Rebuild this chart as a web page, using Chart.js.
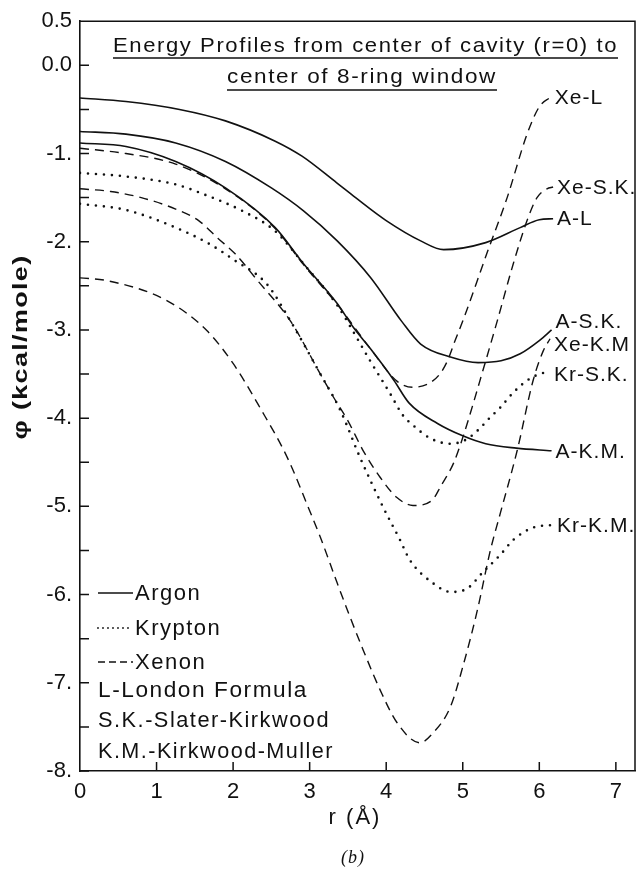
<!DOCTYPE html>
<html>
<head>
<meta charset="utf-8">
<script src="https://cdn.jsdelivr.net/npm/chart.js@4.4.0/dist/chart.umd.min.js"></script>
<style>
  html, body { margin: 0; padding: 0; background: #fff; }
  #wrap { width: 637px; height: 870px; }
</style>
</head>
<body>
<div id="wrap"><canvas id="c" width="637" height="870"></canvas></div>
<script>
/* Energy profiles, cavity centre -> 8-ring window */

// r (Å) and phi (kcal/mole)
const rAL    = [0, 0.6, 1.3, 1.9, 2.55, 2.9, 3.35, 3.6, 4.0, 4.45, 4.75, 5.3, 5.75, 6.0, 6.18];
const phiAL  = [-0.37, -0.41, -0.50, -0.63, -0.86, -1.03, -1.33, -1.50, -1.76, -1.99, -2.09, -2.01, -1.84, -1.75, -1.74];

const rASK   = [0, 0.6, 1.25, 1.9, 2.5, 2.92, 3.36, 3.8, 4.2, 4.45, 4.85, 5.2, 5.5, 5.75, 6.0, 6.16];
const phiASK = [-0.75, -0.78, -0.88, -1.09, -1.39, -1.65, -1.99, -2.41, -2.90, -3.16, -3.31, -3.37, -3.35, -3.27, -3.12, -3.0];

const rAKM   = [0, 0.6, 1.25, 1.9, 2.55, 2.92, 3.36, 3.57, 3.8, 4.1, 4.3, 4.67, 5.0, 5.3, 5.7, 6.16];
const phiAKM = [-0.88, -0.92, -1.09, -1.39, -1.84, -2.25, -2.70, -2.97, -3.22, -3.57, -3.83, -4.06, -4.20, -4.29, -4.34, -4.37];

const rKrSK   = [0, 0.6, 1.25, 1.67, 2.12, 2.55, 2.92, 3.36, 3.57, 3.79, 4.05, 4.22, 4.35, 4.58, 4.84, 5.05, 5.23, 5.36, 5.49, 5.66, 5.88, 6.14];
const phiKrSK = [-1.22, -1.26, -1.35, -1.48, -1.65, -1.88, -2.25, -2.72, -3.02, -3.35, -3.72, -3.97, -4.08, -4.23, -4.29, -4.24, -4.11, -3.99, -3.88, -3.71, -3.55, -3.46];

const rKrKM   = [0, 0.6, 1.25, 1.7, 2.0, 2.44, 2.75, 3.14, 3.4, 3.66, 3.96, 4.18, 4.31, 4.61, 4.84, 5.06, 5.27, 5.49, 5.66, 5.92, 6.18];
const phiKrKM = [-1.57, -1.64, -1.84, -2.03, -2.20, -2.48, -2.90, -3.50, -3.91, -4.45, -5.01, -5.38, -5.61, -5.87, -5.97, -5.93, -5.74, -5.55, -5.38, -5.24, -5.21];

const rXeL   = [0, 0.6, 1.25, 1.9, 2.55, 2.92, 3.36, 3.8, 4.14, 4.35, 4.55, 4.7, 4.8, 4.9, 5.0, 5.32, 5.58, 5.84, 6.0, 6.15];
const phiXeL = [-0.94, -1.0, -1.12, -1.40, -1.85, -2.26, -2.71, -3.22, -3.58, -3.65, -3.61, -3.50, -3.35, -3.12, -2.90, -2.12, -1.50, -0.78, -0.47, -0.36];

const rXeSK   = [0, 0.4, 0.8, 1.25, 1.55, 1.8, 2.03, 2.3, 2.75, 3.14, 3.31, 3.5, 3.7, 3.92, 4.14, 4.35, 4.6, 4.72, 4.88, 5.0, 5.29, 5.45, 5.66, 5.84, 5.97, 6.1, 6.18];
const phiXeSK = [-1.40, -1.43, -1.50, -1.63, -1.76, -1.96, -2.14, -2.42, -2.90, -3.50, -3.76, -4.03, -4.37, -4.67, -4.90, -4.99, -4.93, -4.76, -4.51, -4.22, -3.38, -2.90, -2.25, -1.76, -1.50, -1.40, -1.38];

const rXeKM   = [0, 0.35, 1.14, 1.66, 2.0, 2.35, 2.71, 3.0, 3.14, 3.36, 3.53, 3.7, 3.92, 4.14, 4.44, 4.61, 4.84, 5.0, 5.19, 5.36, 5.49, 5.71, 5.92, 6.05, 6.14];
const phiXeKM = [-2.41, -2.44, -2.67, -3.01, -3.38, -3.88, -4.45, -5.05, -5.35, -5.87, -6.26, -6.63, -7.08, -7.45, -7.68, -7.57, -7.27, -6.82, -6.18, -5.50, -5.08, -4.37, -3.57, -3.24, -3.10];

const xTicks = [0, 1, 2, 3, 4, 5, 6, 7];
const yTicks = [0.5, 0, -0.5, -1, -1.5, -2, -2.5, -3, -3.5, -4, -4.5, -5, -5.5, -6, -6.5, -7, -7.5, -8];
const yTickLabels = ['0.5', '0.0', '', '-1.', '', '-2.', '', '-3.', '', '-4.', '', '-5.', '', '-6.', '', '-7.', '', '-8.'];

const titleLines = ['Energy Profiles from center of cavity (r=0) to', 'center of 8-ring window'];
const legendGases = [['solid', 'Argon'], ['dotted', 'Krypton'], ['dashed', 'Xenon']];
const legendNotes = ['L-London Formula', 'S.K.-Slater-Kirkwood', 'K.M.-Kirkwood-Muller'];

const FONT = '"Liberation Sans", Arial, sans-serif';
const INK = '#111';

const styles = {
  solid:  { borderWidth: 1.6, borderDash: [] },
  dotted: { borderWidth: 2.6, borderDash: [0, 8], borderCapStyle: 'round' },
  dashed: { borderWidth: 1.4, borderDash: [9, 6] },
};

const curves = [
  { name: 'A-L',    r: rAL,   phi: phiAL,   kind: 'solid',  dy: 0 },
  { name: 'A-S.K.', r: rASK,  phi: phiASK,  kind: 'solid',  dy: -8 },
  { name: 'A-K.M.', r: rAKM,  phi: phiAKM,  kind: 'solid',  dy: 1 },
  { name: 'Kr-S.K.', r: rKrSK, phi: phiKrSK, kind: 'dotted', dy: 5 },
  { name: 'Kr-K.M.', r: rKrKM, phi: phiKrKM, kind: 'dotted', dy: 1 },
  { name: 'Xe-L',   r: rXeL,  phi: phiXeL,  kind: 'dashed', dy: 1 },
  { name: 'Xe-S.K.', r: rXeSK, phi: phiXeSK, kind: 'dashed', dy: 1 },
  { name: 'Xe-K.M', r: rXeKM, phi: phiXeKM, kind: 'dashed', dy: 6 },
];

function put(ctx, s, x, y, size, o = {}) {
  ctx.save();
  ctx.font = `${o.weight || 'normal'} ${size}px ${o.family || FONT}`;
  ctx.letterSpacing = (o.ls ?? 1.5) + 'px';
  ctx.textBaseline = 'middle';
  ctx.textAlign = 'left';
  ctx.fillStyle = INK;
  const m = ctx.measureText(s).width;
  const k = o.width ? o.width / m : 1;
  ctx.translate(x, y);
  if (o.rot) ctx.rotate(o.rot);
  ctx.scale(k, 1);
  ctx.fillText(s, o.center ? -m / 2 : 0, 0);
  ctx.restore();
}

function sample(ctx, kind, x0, x1, y) {
  const st = styles[kind];
  ctx.save();
  ctx.strokeStyle = INK;
  ctx.lineWidth = st.borderWidth;
  ctx.setLineDash(kind === 'dotted' ? [0, 5] : kind === 'dashed' ? [7, 4] : []);
  ctx.lineCap = kind === 'dotted' ? 'round' : 'butt';
  ctx.lineWidth = kind === 'dotted' ? 1.8 : st.borderWidth;
  ctx.beginPath(); ctx.moveTo(x0, y); ctx.lineTo(x1, y); ctx.stroke();
  ctx.restore();
}

const paper = {
  id: 'paper',
  afterDraw(chart) {
    const { ctx, chartArea: a, scales: { x, y } } = chart;
    ctx.save();
    ctx.strokeStyle = INK;
    ctx.lineWidth = 1.5;
    // frame top and right
    ctx.beginPath();
    ctx.moveTo(a.left, a.top); ctx.lineTo(a.right, a.top); ctx.lineTo(a.right, a.bottom);
    ctx.stroke();
    // inward tick marks
    ctx.beginPath();
    y.ticks.forEach(t => {
      if (t.value > 0) return;
      const py = y.getPixelForValue(t.value);
      ctx.moveTo(a.left, py); ctx.lineTo(a.left + 9, py);
    });
    x.ticks.forEach(t => {
      if (t.value === 0) return;
      const px = x.getPixelForValue(t.value);
      ctx.moveTo(px, a.bottom); ctx.lineTo(px, a.bottom - 9);
    });
    ctx.stroke();
    ctx.restore();

    // title, underlined
    put(ctx, titleLines[0], 113, 46, 21, { width: 505 });
    put(ctx, titleLines[1], 227, 77, 21, { width: 270 });
    ctx.save();
    ctx.strokeStyle = INK; ctx.lineWidth = 1.5;
    ctx.beginPath();
    ctx.moveTo(113, 58); ctx.lineTo(618, 58);
    ctx.moveTo(227, 90); ctx.lineTo(497, 90);
    ctx.stroke();
    ctx.restore();

    // curve labels at the end of each curve
    chart.data.datasets.forEach((ds, i) => {
      const pts = chart.getDatasetMeta(i).data;
      const end = pts[pts.length - 1];
      put(ctx, ds.label, end.x + 4, end.y + ds.dy, 21, { ls: 1 });
    });

    // legend block, bottom left
    const gy = [593, 628, 662];
    legendGases.forEach(([kind, name], i) => {
      sample(ctx, kind, 98, 133, gy[i]);
      put(ctx, name, 135, gy[i] + 1, 22, { ls: 1.5 });
    });
    const ny = [691, 721, 752];
    legendNotes.forEach((s, i) => put(ctx, s, 98, ny[i], 22, { width: [210, 232, 236][i] }));

    // axis titles
    put(ctx, 'r (Å)', 355, 818, 22, { center: true, ls: 2 });
    put(ctx, '(b)', 353, 858, 18, { center: true, ls: 1, weight: 'italic', family: '"Liberation Serif", serif' });
    put(ctx, 'φ (kcal/mole)', 21, 347, 20, { center: true, weight: 'bold', rot: -Math.PI / 2, width: 185, ls: 1 });
  }
};

new Chart(document.getElementById('c'), {
  type: 'line',
  data: {
    datasets: curves.map(c => ({
      label: c.name,
      dy: c.dy,
      data: c.r.map((r, i) => ({ x: r, y: c.phi[i] })),
      borderColor: INK,
      backgroundColor: INK,
      fill: false,
      pointRadius: 0,
      cubicInterpolationMode: 'monotone',
      ...styles[c.kind],
    })),
  },
  options: {
    responsive: false,
    animation: false,
    devicePixelRatio: 1,
    layout: { padding: { top: 20, right: 2, left: 0, bottom: 0 } },
    plugins: { legend: { display: false }, tooltip: { enabled: false } },
    scales: {
      x: {
        type: 'linear', min: 0, max: 7.25,
        afterBuildTicks: s => { s.ticks = xTicks.map(v => ({ value: v })); },
        afterFit: s => { s.height = 99; },
        ticks: { color: INK, padding: 8, font: { family: FONT, size: 22 }, callback: v => String(v) },
        grid: { display: false, drawTicks: false },
        border: { display: true, color: INK, width: 1.6 },
      },
      y: {
        type: 'linear', min: -8, max: 0.5,
        afterBuildTicks: s => { s.ticks = yTicks.map(v => ({ value: v })); },
        afterFit: s => { s.width = 80; },
        ticks: {
          color: INK, padding: 8, font: { family: FONT, size: 22 },
          callback: (v, i) => yTickLabels[i],
        },
        grid: { display: false, drawTicks: false },
        border: { display: true, color: INK, width: 1.6 },
      },
    },
  },
  plugins: [paper],
});
</script>
</body>
</html>
